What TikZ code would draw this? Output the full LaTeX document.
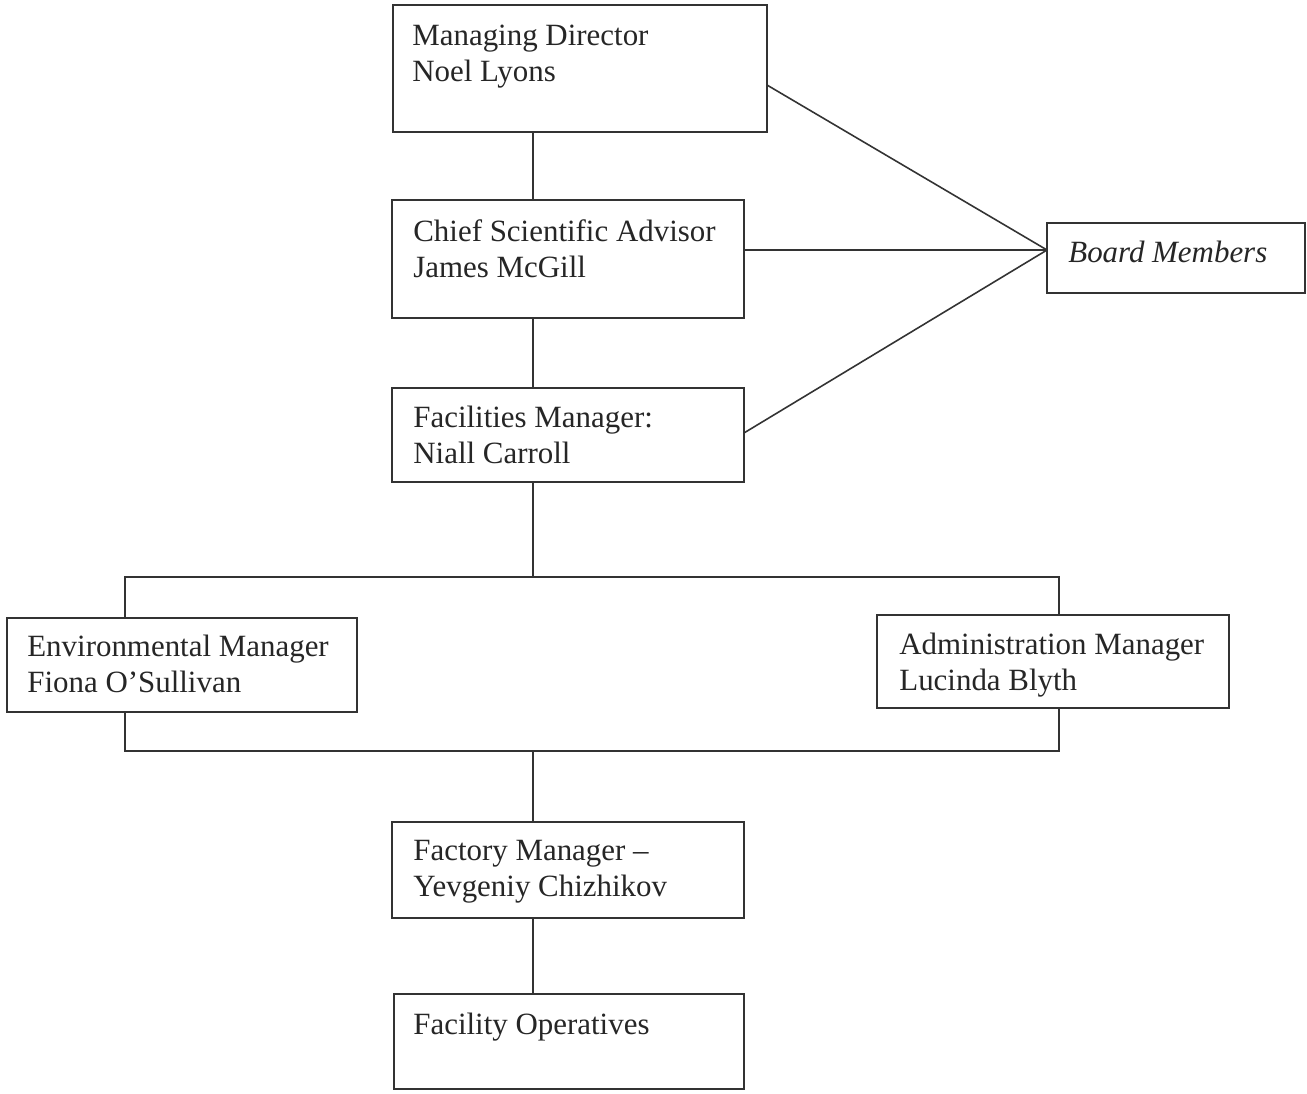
\documentclass[tikz,border=0pt]{standalone}
\usepackage{fontspec}
\setmainfont{Liberation Serif}
\usepackage{tikz}
\usetikzlibrary{positioning}
\usetikzlibrary{calc}
\tikzset{
  org_box/.style = {draw=black!80, line width=0.9pt, rectangle, anchor=north west,
    inner sep=0pt, outer sep=0pt},% boite vide
  org_txt/.style = {anchor=base west, align=left, inner sep=0pt, text=black!85,
    font=\fontsize{17.6}{20.4}\selectfont},% texte, base de la derniere ligne
  org_line/.style = {draw=black!80, line width=0.9pt}
}

\begin{document}
\begin{tikzpicture}[x=0.02cm,y=-0.02cm]
\useasboundingbox (0,0) rectangle (1307,1093);
\fill[white] (0,0) rectangle (1307,1093);

\node [org_box, minimum width=7.48cm, minimum height=2.54cm] (md) at (393,5) {};
\node [org_box, minimum width=7.04cm, minimum height=2.36cm] (csa) at (392,200) {};
\node [org_box, minimum width=7.04cm, minimum height=1.88cm] (fm) at (392,388) {};
\node [org_box, minimum width=5.16cm, minimum height=1.40cm] (bm) at (1047,223) {};
\node [org_box, minimum width=7.00cm, minimum height=1.88cm] (env) at (7,618) {};
\node [org_box, minimum width=7.04cm, minimum height=1.86cm] (adm) at (877,615) {};
\node [org_box, minimum width=7.04cm, minimum height=1.92cm] (fac) at (392,822) {};
\node [org_box, minimum width=7.00cm, minimum height=1.90cm] (ops) at (394,994) {};

\node [org_txt] (md_t) at (412,81) {Managing Director\\Noel Lyons};
\node [org_txt] (csa_t) at (413,277) {Chief Scientific Advisor\\James McGill};
\node [org_txt] (fm_t) at (413,463) {Facilities Manager:\\Niall Carroll};
\node [org_txt] (bm_t) at (1068,262) {\itshape Board Members};
\node [org_txt] (env_t) at (27,692) {Environmental Manager\\Fiona O'Sullivan};
\node [org_txt] (adm_t) at (899,690) {Administration Manager\\Lucinda Blyth};
\node [org_txt] (fac_t) at (413,896) {Factory Manager --\\Yevgeniy Chizhikov};
\node [org_txt] (ops_t) at (413,1034) {Facility Operatives};

\coordinate (spine) at (533,0);
\coordinate (left_x) at (125,0);
\coordinate (right_x) at (1059,0);
\coordinate (bus_t) at (533,577);
\coordinate (bus_b) at (533,751);
\coordinate (bm_in) at ([yshift=0.16cm]bm.west);

\draw[org_line] (md.south -| spine) -- (csa.north -| spine);
\draw[org_line] (csa.south -| spine) -- (fm.north -| spine);
\draw[org_line] (fm.south -| spine) -- (bus_t);
\draw[org_line] (env.north -| left_x) |- (bus_t) -| (adm.north -| right_x);
\draw[org_line] (env.south -| left_x) |- (bus_b) -| (adm.south -| right_x);
\draw[org_line] (bus_b) -- (fac.north -| spine);
\draw[org_line] (fac.south -| spine) -- (ops.north -| spine);

\draw[org_line] ([yshift=-0.33cm]md.east) -- (bm_in);
\draw[org_line] (csa.east |- bm_in) -- (bm_in);
\draw[org_line] ([yshift=0.04cm]fm.east) -- (bm_in);
\end{tikzpicture}
\end{document}
